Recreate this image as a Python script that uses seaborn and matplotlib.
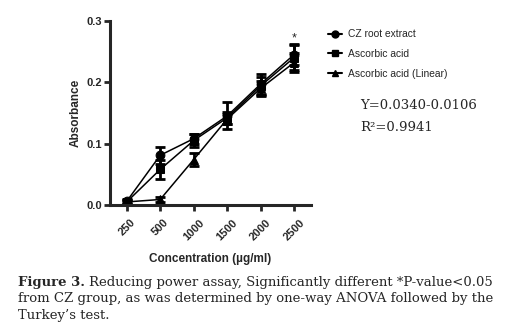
import numpy as np
import pandas as pd
import matplotlib
matplotlib.use('Agg')
import matplotlib.pyplot as plt
from matplotlib.lines import Line2D
import seaborn as sns

# values
conc = ['250', '500', '1000', '1500', '2000', '2500']
cz = [0.006, 0.081, 0.108, 0.145, 0.197, 0.245]
cz_err = [0.003, 0.014, 0.008, 0.022, 0.017, 0.017]
asc = [0.005, 0.058, 0.105, 0.142, 0.194, 0.240]
asc_err = [0.003, 0.016, 0.010, 0.010, 0.015, 0.020]
lin = [0.005, 0.009, 0.074, 0.140, 0.190, 0.232]
lin_err = [0.003, 0.004, 0.010, 0.008, 0.012, 0.015]
names = ['CZ root extract', 'Ascorbic acid', 'Ascorbic acid (Linear)']
markers = ['o', 's', '^']

sns.set_style('ticks')
plt.rcParams['font.family'] = ['Liberation Sans Narrow', 'Liberation Sans', 'DejaVu Sans']

rows = []
for name, vals in zip(names, [cz, asc, lin]):
    for i, v in enumerate(vals):
        rows.append({'x': i, 'y': v, 'series': name})
df = pd.DataFrame(rows)

fig = plt.figure(figsize=(5.08, 3.32), dpi=100)
ax = fig.add_axes([0.2165, 0.3825, 0.3955, 0.555])

sns.lineplot(data=df, x='x', y='y', hue='series', style='series',
             markers=markers, dashes=False, palette=['black'] * 3,
             markersize=6.3, linewidth=1.1, markeredgecolor='black',
             ax=ax, legend=False)
for vals, errs in zip([cz, asc, lin], [cz_err, asc_err, lin_err]):
    ax.errorbar(range(len(conc)), vals, yerr=errs, fmt='none', ecolor='black',
                elinewidth=2, capsize=3.5, capthick=2)

ax.set_xlim(-0.5, 5.5)
ax.set_ylim(0, 0.3)
ax.set_yticks([0.0, 0.1, 0.2, 0.3])
ax.set_yticklabels(['0.0', '0.1', '0.2', '0.3'], fontweight='bold', fontsize=8)
ax.set_xticks(range(len(conc)))
ax.set_xticklabels(conc, rotation=45, ha='center', va='top',
                   fontweight='bold', fontsize=8)
ax.tick_params(width=2, length=4, pad=2)
ax.tick_params(axis='x', pad=5)
for s in ['left', 'bottom']:
    ax.spines[s].set_linewidth(2.2)
sns.despine(ax=ax)
ax.set_ylabel('Absorbance', fontweight='bold', fontsize=8.5, labelpad=3)
ax.set_xlabel('Concentration (\u00b5g/ml)', fontweight='bold', fontsize=8.5, labelpad=8)

ax.text(5, 0.262, '*', ha='center', va='bottom', fontsize=9)

# legend
handles = [Line2D([], [], color='black', marker=m, markersize=5, linewidth=1.5)
           for m in markers]
fig.legend(handles, names, loc='upper left', bbox_to_anchor=(0.628, 0.94),
           frameon=False, fontsize=7.4, handlelength=1.3, handletextpad=0.6,
           labelspacing=0.95)

fig.text(0.709, 0.672, 'Y=0.0340-0.0106', family='DejaVu Serif', fontsize=9.5)
fig.text(0.709, 0.605, 'R\u00b2=0.9941', family='DejaVu Serif', fontsize=9.5)

caption = ['Reducing power assay, Significantly different *P-value<0.05',
           'from CZ group, as was determined by one-way ANOVA followed by the',
           'Turkey\u2019s test.']
fs = 9.5
fig.text(0.0354, 0.1506, 'Figure 3.', family='DejaVu Serif', fontweight='bold',
         fontsize=fs, va='center')
fig.text(0.175, 0.1506, caption[0], family='DejaVu Serif', fontsize=fs, va='center')
fig.text(0.0354, 0.1024, caption[1], family='DejaVu Serif', fontsize=fs, va='center')
fig.text(0.0354, 0.0512, caption[2], family='DejaVu Serif', fontsize=fs, va='center')

fig.savefig('out.png', dpi=100, facecolor='white')
